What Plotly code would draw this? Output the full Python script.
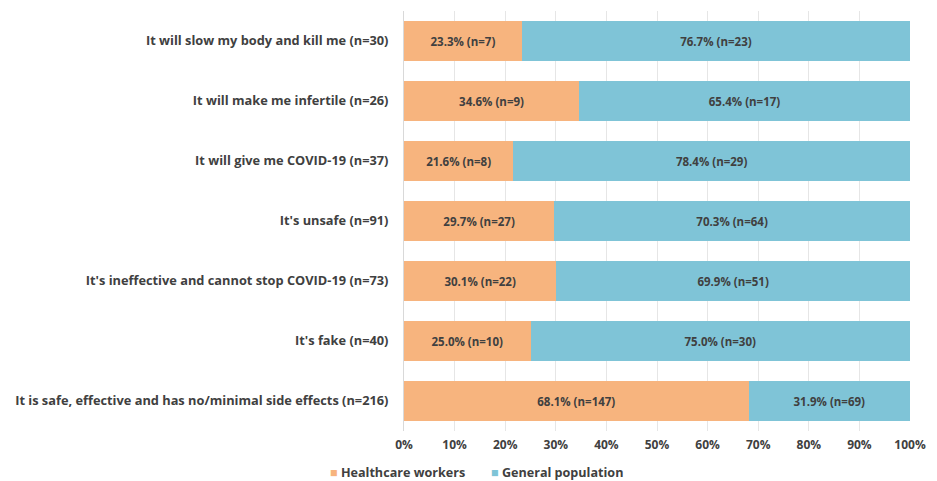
import plotly.graph_objects as go

# Reasons (bottom to top as drawn by plotly)
reasons = [
    "It is safe, effective and has no/minimal side effects (n=216)",
    "It's fake (n=40)",
    "It's ineffective and cannot stop COVID-19 (n=73)",
    "It's unsafe (n=91)",
    "It will give me COVID-19 (n=37)",
    "It will make me infertile (n=26)",
    "It will slow my body and kill me (n=30)",
]
hcw_pct = [68.1, 25.0, 30.1, 29.7, 21.6, 34.6, 23.3]
hcw_n = [147, 10, 22, 27, 8, 9, 7]
gen_pct = [31.9, 75.0, 69.9, 70.3, 78.4, 65.4, 76.7]
gen_n = [69, 30, 51, 64, 29, 17, 23]
groups = ["Healthcare workers", "General population"]

ORANGE = "#F7B47E"
BLUE = "#7FC4D7"
TEXT = "#404040"
FONT = "Open Sans"

fig = go.Figure()
for name, pct, n, color in [(groups[0], hcw_pct, hcw_n, ORANGE), (groups[1], gen_pct, gen_n, BLUE)]:
    fig.add_trace(go.Bar(
        y=reasons, x=pct, orientation="h", name=name,
        marker=dict(color=color, line=dict(width=0)),
        text=[f"{p:.1f}% (n={k})" for p, k in zip(pct, n)],
        textposition="inside", insidetextanchor="middle", textangle=0,
        constraintext="none",
        textfont=dict(family=FONT, size=11.5, color=TEXT, weight="bold"),
        showlegend=False,
    ))

# legend drawn as annotations (small squares close to the labels, like the original)
for name, color, x in [(groups[0], ORANGE, -0.150), (groups[1], BLUE, 0.168)]:
    fig.add_annotation(
        text=f'<span style="color:{color}">■</span> {name}',
        xref="paper", yref="paper", x=x, y=-0.098,
        xanchor="left", yanchor="middle", showarrow=False,
        font=dict(family=FONT, size=12.6, color=TEXT, weight="bold"),
    )

# page body has an 8px margin, so margins are shifted to compensate
fig.update_layout(
    barmode="stack",
    bargap=1 / 3,
    width=937, height=481,
    margin=dict(l=396, r=35, t=3, b=58),
    plot_bgcolor="white", paper_bgcolor="white",
    font=dict(family=FONT, size=12, color=TEXT, weight="bold"),
    xaxis=dict(
        range=[0, 100], dtick=10, ticksuffix="%",
        showgrid=True, gridcolor="#E6E6E6", gridwidth=1,
        zeroline=False, showline=False,
        ticks="", ticklabelstandoff=5, tickfont=dict(size=12, color=TEXT),
    ),
    yaxis=dict(
        showline=True, linecolor="#D9D9D9", linewidth=1,
        ticks="", ticklabelstandoff=12,
        tickfont=dict(size=12.8, color=TEXT),
        automargin=False,
    ),
    showlegend=False,
)

fig.write_html("out.html")
